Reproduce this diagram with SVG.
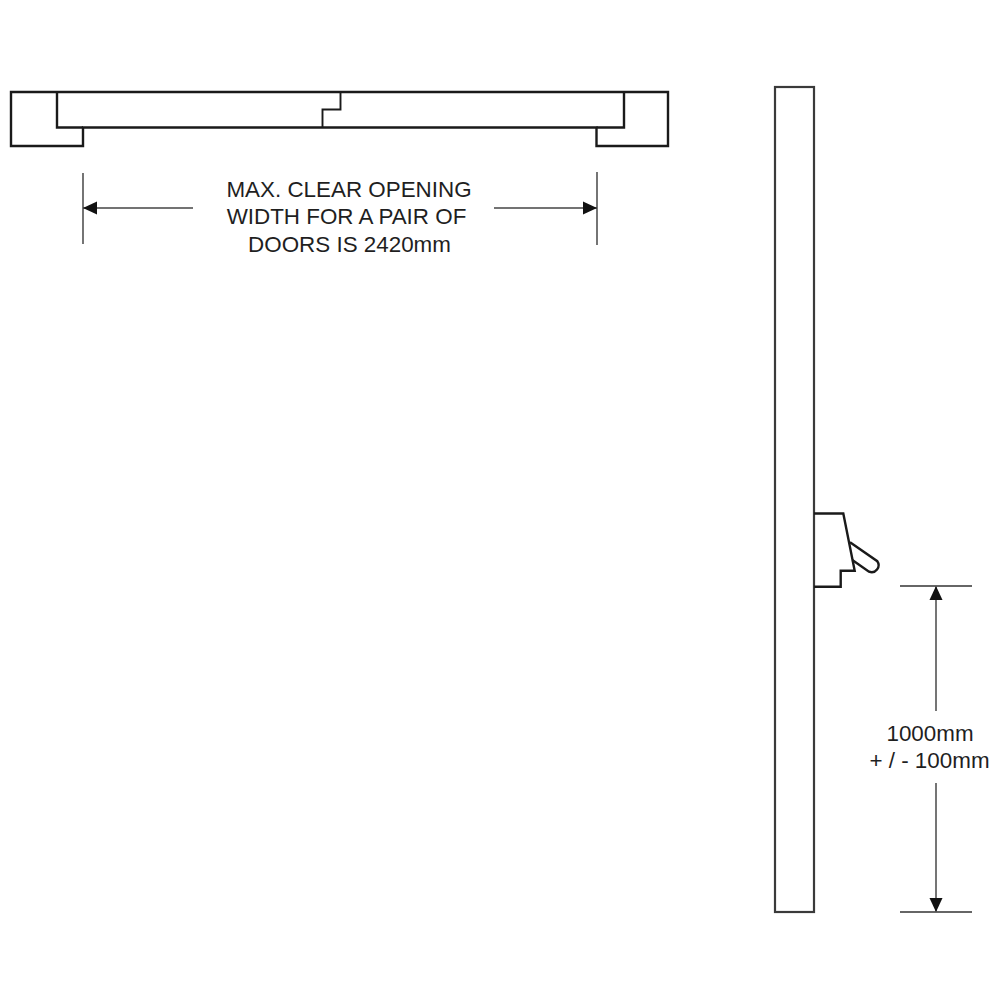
<svg xmlns="http://www.w3.org/2000/svg" width="1000" height="1000" viewBox="0 0 1000 1000">
<style>
.o{fill:none;stroke:#1a1a1a;stroke-width:2.400;stroke-linejoin:miter}
.s{fill:none;stroke:#3a3a3a;stroke-width:2.200}
.d{fill:none;stroke:#444;stroke-width:1.600}
.g{fill:none;stroke:#666;stroke-width:1.800}
.t{font-family:"Liberation Sans",Arial,sans-serif;font-size:22.400px;fill:#1f1f1f;text-anchor:middle}
</style>
<defs>
<marker id="a" markerUnits="userSpaceOnUse" markerWidth="14" markerHeight="14" refX="14" refY="7" orient="auto"><path d="M0,0.500 L14,7 L0,13.500Z" fill="#111"/></marker>
</defs>
<rect width="1000" height="1000" fill="#fff"/>
<g id="plan">
<path class="o" d="M11,92 H668 V146 H596.500 V127.500 H83 V146 H11 Z"/>
<path class="o" d="M57,92 V127.500 H83 M624,92 V127.500 H596.500"/>
<path class="o" d="M322.500,127.500 V109.500 H340.500 V92" style="stroke-width:1.900"/>
</g>
<g id="elevation">
<rect class="s" x="775" y="87" width="39" height="825"/>
<path class="o" d="M814,513.500 H843.300 L854.700,570.700 H840.700 V586.700 H814"/>
<path class="o" d="M850,542.300 L877.300,561.200 A7,7 0 0 1 869,571.700 L852.300,560"/>
</g>
<g id="connectors">
<path class="g" d="M83,173 V244 M597,172 V245 M900,586 H972 M900,912 H972"/>
<path class="d" d="M193,208 H83" marker-end="url(#a)"/>
<path class="d" d="M494,208 H597" marker-end="url(#a)"/>
<path class="g" d="M936,711 V586" marker-end="url(#a)"/>
<path class="g" d="M936,783 V912" marker-end="url(#a)"/>
</g>
<g id="labels">
<text class="t" x="349" y="197">MAX. CLEAR OPENING</text>
<text class="t" x="346.500" y="224">WIDTH FOR A PAIR OF</text>
<text class="t" x="349.500" y="252">DOORS IS 2420mm</text>
<text class="t" x="930" y="741">1000mm</text>
<text class="t" x="929.500" y="768">+ / - 100mm</text>
</g>
</svg>
